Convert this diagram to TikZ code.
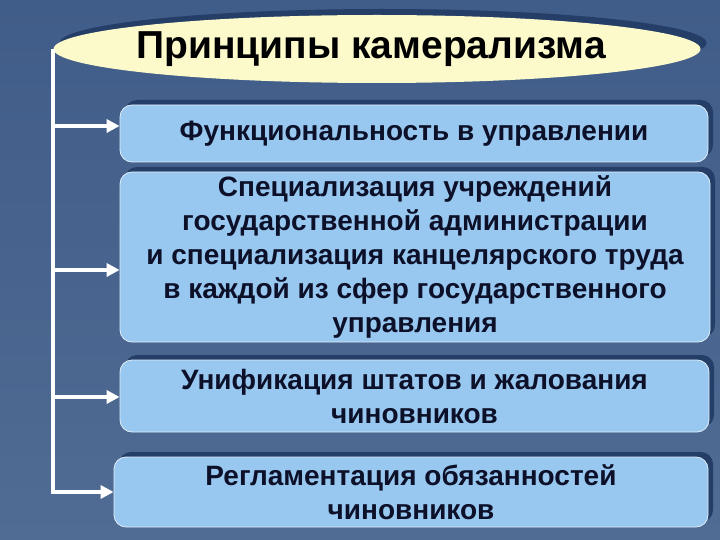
\documentclass[tikz,border=0pt]{standalone}
\usepackage{fontspec}
\setmainfont{Liberation Sans}
\usetikzlibrary{positioning,shapes.geometric,shadows,arrows.meta}

\definecolor{fondoarriba}{RGB}{64,92,136}
\definecolor{fondoabajo}{RGB}{80,108,148}
\definecolor{sombra}{RGB}{36,62,104}
\definecolor{celeste}{RGB}{152,199,240}
\definecolor{crema}{RGB}{252,250,202}
\definecolor{tinta}{RGB}{12,16,40}

\tikzset{
  principio/.style={draw=white!70!celeste, line width=0.8pt, fill=celeste,
    rounded corners=12pt, text=tinta, align=center, inner sep=2pt,
    font=\bfseries\fontsize{28}{34}\selectfont,
    drop shadow={shadow xshift=5pt, shadow yshift=5pt, fill=sombra, opacity=1}},
  flecha/.style={white, line width=4pt, -{Triangle[length=13pt,width=13pt]}}
}

\begin{document}
\begin{tikzpicture}[x=1pt,y=-1pt]
  % Fondo
    \useasboundingbox (0,0) rectangle (720,540);
    \shade[top color=fondoarriba, bottom color=fondoabajo] (0,0) rectangle (720,540);

  % Titulo
    \node[ellipse, fill=crema, minimum width=647pt, minimum height=68pt, inner sep=0pt,
      drop shadow={shadow xshift=6pt, shadow yshift=6pt, fill=sombra, opacity=1}]
      (titulo) at (377,49) {};
    \node[font=\bfseries\fontsize{39}{44}\selectfont]
      (nombre) at ([xshift=-6pt]titulo.center) {Принципы камерализма};

  % Principios
    \node[principio, minimum width=588pt, minimum height=57pt] (p1) at (414,133.5)
      {Функциональность в управлении};
    \node[principio, minimum width=590pt, minimum height=170pt] (p2) at (415,257)
      {Специализация учреждений\\государственной  администрации\\и специализация канцелярского труда\\в каждой из сфер государственного\\управления};
    \node[principio, minimum width=589pt, minimum height=72pt] (p3) at (414.5,396)
      {Унификация штатов и жалования\\чиновников};
    \node[principio, minimum width=594pt, minimum height=70pt] (p4) at (411,492)
      {Регламентация обязанностей\\чиновников};

  % Flechas
    \coordinate (s1) at (53,126);
    \coordinate (s2) at (53,270);
    \coordinate (s3) at (53,397);
    \draw[flecha] (titulo.west) |- (p4.west);
    \draw[flecha] (s1) -- (s1 -| p1.west);
    \draw[flecha] (s2) -- (s2 -| p2.west);
    \draw[flecha] (s3) -- (s3 -| p3.west);
\end{tikzpicture}
\end{document}
